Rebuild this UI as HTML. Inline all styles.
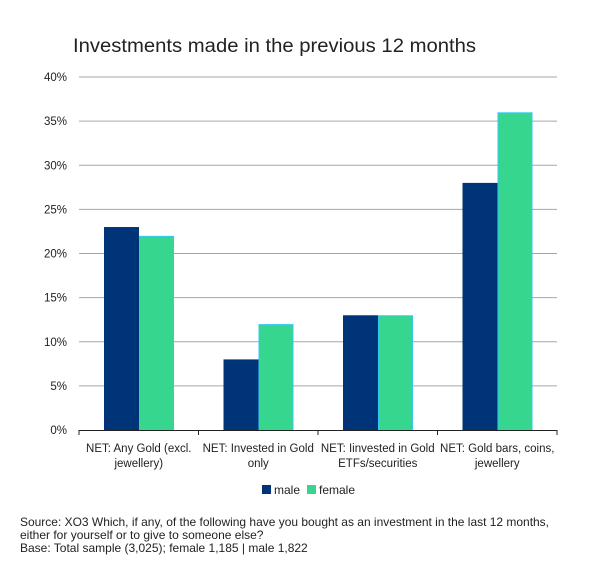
<!DOCTYPE html>
<html><head><meta charset="utf-8"><style>
body{margin:0;background:#fff;font-family:"Liberation Sans",sans-serif;}
svg text{font-family:"Liberation Sans",sans-serif;fill:#222;}
</style></head><body>
<svg width="603" height="574" xmlns="http://www.w3.org/2000/svg">
<text x="73" y="52" font-size="19" textLength="403" lengthAdjust="spacingAndGlyphs">Investments made in the previous 12 months</text>
<g id="grid"></g><g id="bars"></g><g id="xaxis"></g>
<g>
<rect x="262" y="485" width="9" height="9" fill="#003478"/>
<text x="274" y="494" font-size="12">male</text>
<rect x="307" y="485" width="9" height="9" fill="#36d68f"/>
<text x="319" y="494" font-size="12">female</text>
</g>
<g font-size="12">
<text x="20" y="526" textLength="529" lengthAdjust="spacingAndGlyphs">Source: XO3 Which, if any, of the following have you bought as an investment in the last 12 months,</text>
<text x="20" y="539">either for yourself or to give to someone else?</text>
<text x="20" y="552">Base: Total sample (3,025); female 1,185 | male 1,822</text>
</g>
</svg>
<script>
const categories=[["NET: Any Gold (excl.","jewellery)"],["NET: Invested in Gold","only"],["NET: Iinvested in Gold","ETFs/securities"],["NET: Gold bars, coins,","jewellery"]];
const male=[23,8,13,28];
const female=[22,12,13,36];
const ticks=[0,5,10,15,20,25,30,35,40];
const NS="http://www.w3.org/2000/svg";
const x0=79,x1=557,y0=430,y1=77,cw=(x1-x0)/categories.length;
const Y=v=>y0-(v/40)*(y0-y1);
function mk(t,a,p){const e=document.createElementNS(NS,t);for(const k in a)e.setAttribute(k,a[k]);p.appendChild(e);return e;}
const grid=document.getElementById('grid'),bars=document.getElementById('bars'),xa=document.getElementById('xaxis');
ticks.forEach(t=>{
 if(t>0){const l=mk('line',{x1:x0,x2:x1,y1:Y(t),y2:Y(t),stroke:'#a6a6a6','stroke-width':1},grid);
 
 }
 const tx=mk('text',{x:67,y:Y(t)+4,'font-size':11.5,'text-anchor':'end'},grid);tx.textContent=t+'%';
 
 
});
categories.forEach((c,i)=>{
 const bx=x0+i*cw+25;
 const m=mk('rect',{x:bx,y:Y(male[i]),width:35,height:y0-Y(male[i]),fill:'#003478'},bars);
 
 
 const f=mk('rect',{x:bx+35.5,y:Y(female[i])+0.5,width:34,height:y0-Y(female[i])-0.5,fill:'#36d68f',stroke:'#33c8f0','stroke-width':1},bars);
 
 
 c.forEach((ln,j)=>{const t=mk('text',{x:x0+i*cw+cw/2,y:452+j*15,'font-size':11.5,'text-anchor':'middle'},xa);t.textContent=ln;
 
 });
});
const ax=mk('line',{x1:x0,x2:x1,y1:y0+0.5,y2:y0+0.5,stroke:'#222','stroke-width':1},xa);


for(let i=0;i<=categories.length;i++){const tk=mk('line',{x1:x0+i*cw,x2:x0+i*cw,y1:y0,y2:y0+5,stroke:'#222','stroke-width':1},xa);
 
 }
</script>
</body></html>
